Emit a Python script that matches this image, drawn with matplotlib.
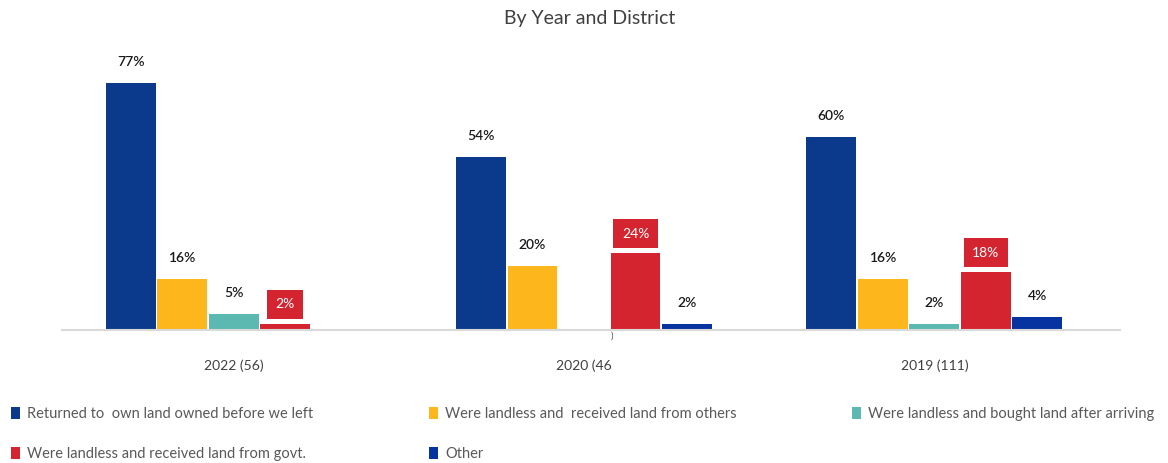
import matplotlib.pyplot as plt
import numpy as np

plt.rcParams['font.family'] = ['Lato', 'DejaVu Sans']

groups = ["2022 (56)", "2020 (46", "2019 (111)"]
series = [
    "Returned to  own land owned before we left",
    "Were landless and  received land from others",
    "Were landless and bought land after arriving",
    "Were landless and received land from govt.",
    "Other",
]
values = [
    [77, 54, 60],
    [16, 20, 16],
    [5, 0, 2],
    [2, 24, 18],
    [0, 2, 4],
]
colors = ["#0B3A8C", "#FDB61B", "#5CB9B1", "#D42430", "#0733A0"]

fig = plt.figure(figsize=(11.68, 4.63), dpi=100)
ax = fig.add_axes([0.053, 0.287, 0.906, 0.611])

x = np.arange(len(groups))
w = 0.147
for i, (name, vals) in enumerate(zip(series, values)):
    pos = x + (i - 2) * w
    ax.bar(pos, vals, width=w * 0.97, color=colors[i], label=name)
    for p, v in zip(pos, vals):
        if v == 0:
            continue
        if i == 3:
            ax.annotate(f"{v}%", (p, v), xytext=(0, 14), textcoords="offset points",
                        ha="center", va="center", fontsize=10, color="white",
                        bbox=dict(boxstyle="square,pad=0.6", fc=colors[3], ec="none"))
        else:
            ax.annotate(f"{v}%", (p, v), xytext=(0, 15), textcoords="offset points",
                        ha="center", va="center", fontsize=10, color="#1a1a1a",
                        fontweight="semibold")

# stray mark in the original under the 2020 group
ax.text(x[1] + 0.08, -0.3, ")", fontsize=7, color="#555555", ha="center", va="top")

ax.set_xlim(-0.49, 2.53)
ax.set_ylim(0, 88)
ax.set_xticks(x)
ax.set_xticklabels(groups, fontsize=10, color="#404040")
ax.tick_params(axis="x", length=0, pad=21)
ax.set_yticks([])
for s in ["top", "right", "left"]:
    ax.spines[s].set_visible(False)
ax.spines["bottom"].set_color("#D9D9D9")
ax.spines["bottom"].set_linewidth(1.5)

fig.text(0.505, 0.96, "By Year and District", ha="center", va="center",
         fontsize=14, color="#404040")

handles, labels = ax.get_legend_handles_labels()
order = [0, 3, 1, 4, 2]
leg = fig.legend([handles[k] for k in order], [labels[k] for k in order],
                 loc="lower left", bbox_to_anchor=(0.004, -0.01, 0.99, 0.15),
                 mode="expand", ncol=3, frameon=False, fontsize=10.5,
                 handlelength=0.6, handleheight=0.9, handletextpad=0.5,
                 labelspacing=1.8, borderaxespad=0.05)
for t in leg.get_texts():
    t.set_color("#595959")

fig.savefig("out.png", dpi=100)
